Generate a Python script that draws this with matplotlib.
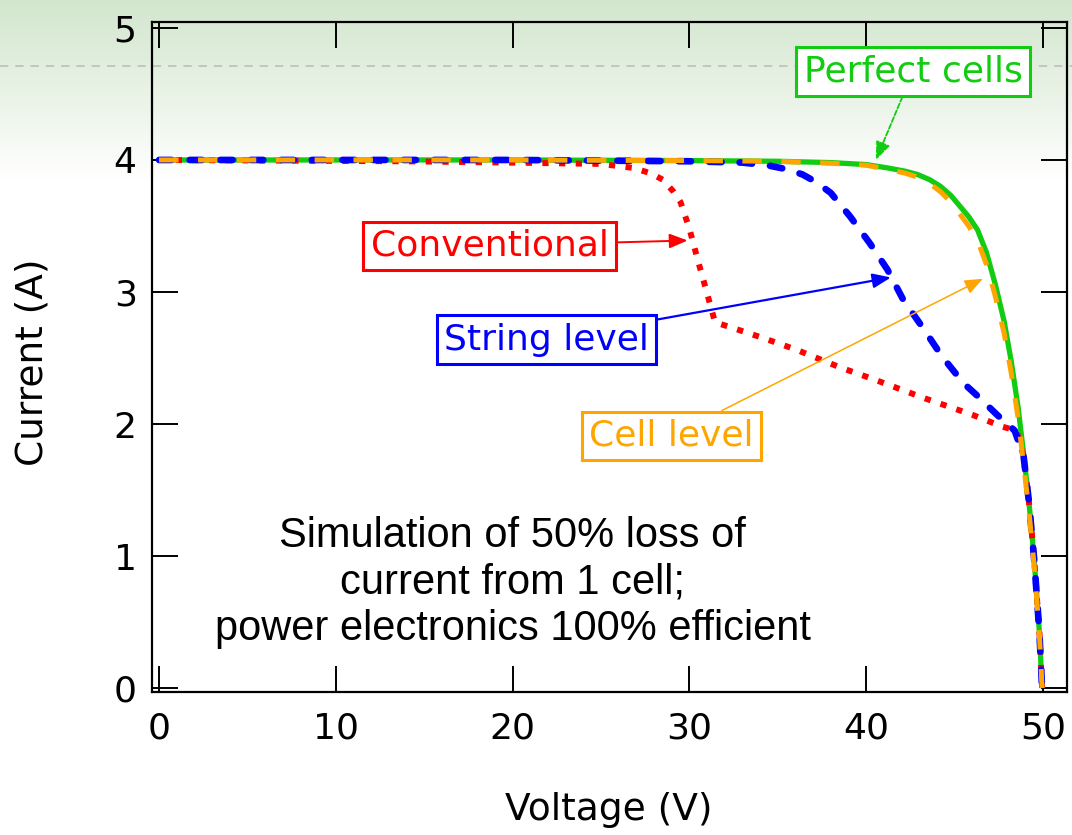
import numpy as np
import matplotlib
matplotlib.use("Agg")
import matplotlib.pyplot as plt
from matplotlib.colors import LinearSegmentedColormap

plt.rcParams['font.family'] = ['DejaVu Sans']
plt.rcParams['lines.scale_dashes'] = False

# curve data (V, A)
perfect_v = [0, 10, 20, 30, 35, 38, 40, 41.2, 42.2, 42.9, 43.6, 44.2, 44.8, 45.3, 45.8, 46.3, 46.8, 47.3, 47.8, 48.2, 48.6, 48.9, 49.2, 49.5, 49.8, 49.95]
perfect_i = [4.0, 4.0, 4.0, 3.995, 3.99, 3.98, 3.965, 3.94, 3.915, 3.89, 3.85, 3.80, 3.73, 3.65, 3.57, 3.47, 3.30, 3.06, 2.78, 2.48, 2.12, 1.78, 1.42, 0.98, 0.42, 0.0]

cell_v = perfect_v
cell_i = [4.0, 4.0, 4.0, 3.995, 3.99, 3.975, 3.96, 3.93, 3.90, 3.87, 3.82, 3.76, 3.68, 3.59, 3.50, 3.39, 3.21, 2.97, 2.69, 2.39, 2.04, 1.70, 1.35, 0.93, 0.40, 0.0]

string_v = [0, 20, 30, 33, 34.4, 35.5, 36.4, 37.2, 38.0, 39.1, 40.2, 41.2, 42.1, 43.2, 44.3, 45.5, 46.4, 47.4, 48.4, 48.9, 49.2, 49.5, 49.8, 49.95]
string_i = [4.0, 4.0, 3.99, 3.98, 3.96, 3.93, 3.89, 3.83, 3.75, 3.57, 3.37, 3.17, 2.94, 2.73, 2.51, 2.31, 2.20, 2.07, 1.95, 1.76, 1.42, 0.98, 0.42, 0.0]

conv_v = [0, 14, 20, 25, 26.8, 27.8, 28.5, 29.1, 29.5, 30.0, 30.5, 31.0, 31.45, 32.4, 34.2, 36.1, 38.5, 40.6, 43.2, 46.0, 47.7, 48.5, 48.9, 49.2, 49.5, 49.8, 49.95]
conv_i = [4.0, 3.99, 3.98, 3.97, 3.94, 3.90, 3.85, 3.76, 3.68, 3.48, 3.23, 2.99, 2.77, 2.73, 2.65, 2.56, 2.43, 2.33, 2.20, 2.07, 1.98, 1.95, 1.76, 1.42, 0.98, 0.42, 0.0]

x_ticks = [0, 10, 20, 30, 40, 50]
y_ticks = [0, 1, 2, 3, 4, 5]

fig = plt.figure(figsize=(10.72, 8.35), dpi=100)
fig.patch.set_facecolor('white')

# green gradient band at top + dashed rule
bg = fig.add_axes([0, 0, 1, 1], zorder=0)
bg.axis('off')
bg.set_xlim(0, 1)
bg.set_ylim(0, 1)
cmap = LinearSegmentedColormap.from_list('g', ['#d2e6ce', '#e8f2e5', '#ffffff'])
grad = np.linspace(0, 1, 200).reshape(-1, 1)
bg.imshow(grad, cmap=cmap, extent=[0, 1, 1 - 180 / 835, 1], aspect='auto')
bg.plot([0, 1], [1 - 66 / 835] * 2, color='#bdbdbd', lw=1.2, dashes=(6, 5))

ax = fig.add_axes([152 / 1072, 143 / 835, 915 / 1072, 670 / 835], zorder=1)
ax.set_facecolor('none')

ax.plot(perfect_v, perfect_i, color='#11cc11', lw=3.8, solid_capstyle='butt', zorder=2)
ax.plot(conv_v, conv_i, color='#ff0000', lw=4.3, dashes=(4.5, 7.5), dash_capstyle='butt', zorder=3)
ax.plot(string_v, string_i, color='#0000ff', lw=4.8, dashes=(9, 13), dash_capstyle='round', zorder=4)
ax.plot(cell_v, cell_i, color='#ffa500', lw=3.6, dashes=(14, 14), dash_capstyle='butt', zorder=5)

ax.set_xlim(-0.4, 51.36)
ax.set_ylim(-0.03, 5.045)
ax.set_xticks(x_ticks)
ax.set_yticks(y_ticks)
ax.tick_params(direction='in', length=19, width=1.4, top=True, right=True,
               labelsize=26)
ax.tick_params(axis='x', pad=14)
ax.tick_params(axis='y', pad=11)
for s in ax.spines.values():
    s.set_linewidth(1.6)

fig.text(609 / 1072, 25 / 835, 'Voltage (V)', fontsize=27, ha='center', va='center')
fig.text(33 / 1072, 1 - 362 / 835, 'Current (A)', fontsize=27, ha='center', va='center', rotation=90)

def label(text, xy, xytext, color, lw=1.3, ls='-'):
    ax.annotate(text, xy=xy, xytext=xytext, color=color, fontsize=26,
                ha='center', va='center', zorder=10,
                bbox=dict(boxstyle='square,pad=0.2', fc='white', ec=color, lw=2.2),
                arrowprops=dict(arrowstyle='-|>,head_length=0.5,head_width=0.2',
                                color=color, lw=lw, ls=ls, mutation_scale=22,
                                shrinkA=0, shrinkB=0))

label('Perfect cells', (40.55, 4.0), (42.65, 4.67), '#11cc11', lw=1.3, ls='--')
label('Conventional', (29.9, 3.39), (18.7, 3.35), '#ff0000', lw=1.4)
label('String level', (41.4, 3.11), (21.9, 2.64), '#0000ff', lw=1.6)
label('Cell level', (46.6, 3.10), (29.0, 1.91), '#ffa500', lw=1.1)

ax.text(20.0, 0.8, 'Simulation of 50% loss of\ncurrent from 1 cell;\npower electronics 100% efficient',
        fontsize=30, ha='center', va='center', family=['Liberation Sans', 'DejaVu Sans'],
        linespacing=1.2, zorder=10)

fig.savefig('out.png', dpi=100)
